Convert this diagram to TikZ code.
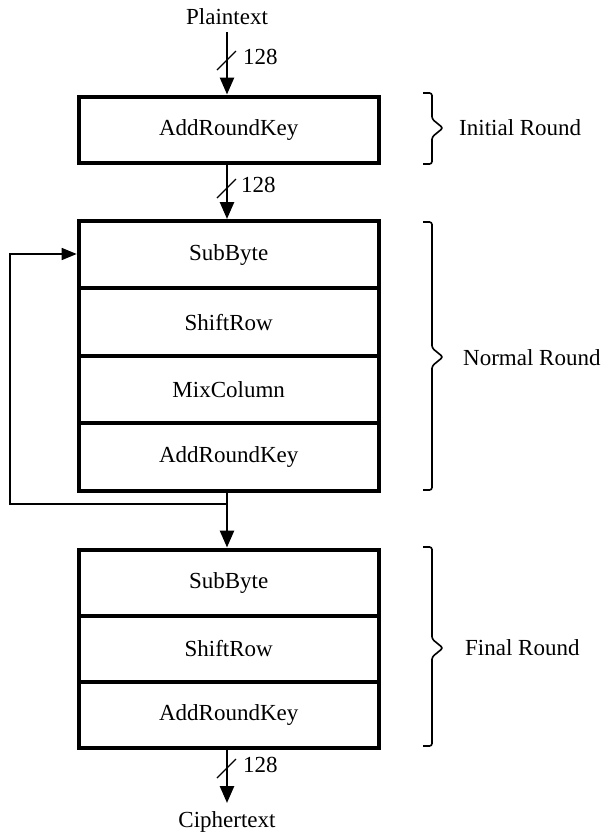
\documentclass[tikz,border=0pt]{standalone}
\usepackage{fontspec}
\setmainfont{Liberation Serif}
\usetikzlibrary{arrows.meta,calc}
\begin{document}
\begin{tikzpicture}[x=1pt,y=-1pt,
  txt/.style={font=\fontsize{23}{27}\selectfont,inner sep=0pt},
  blk/.style={draw,line width=4pt,minimum width=300pt,inner sep=0pt,txt},
  nblk/.style={blk,minimum height=67.4pt},
  fblk/.style={blk,minimum height=66.2pt},
  flow/.style={line width=2.6pt,-{Triangle[width=14pt,length=17pt]}},
  back/.style={line width=1.5pt,-{Triangle[width=12pt,length=15pt]}},
  slashmark/.style={line width=1.3pt},
  brc/.style={line width=1.6pt,rounded corners=2.5pt},
]
\useasboundingbox (0,0) rectangle (605,836);

% texts
\node[txt] (pt) at (227,17) {Plaintext};
\node[txt] (ct) at (227,822) {Ciphertext};

% initial round
\node[blk,minimum height=66pt] (ark0) at (228.7,129.5) {AddRoundKey};

% normal round
\node[nblk] (sb1) at (228.7,254.7) {SubByte};
\node[nblk] (sr1) at (228.7,322.1) {ShiftRow};
\node[nblk] (mc1) at (228.7,389.5) {MixColumn};
\node[nblk] (ark1) at (228.7,456.9) {AddRoundKey};

% final round
\node[fblk] (sb2) at (228.7,582.6) {SubByte};
\node[fblk] (sr2) at (228.7,648.8) {ShiftRow};
\node[fblk] (ark2) at (228.7,715.0) {AddRoundKey};

% arrows
\coordinate (a0s) at (227,32);
\coordinate (axis) at (227,0);
\draw[flow] (a0s) -- (axis |- ark0.north);
\draw[flow] (axis |- ark0.south) -- (axis |- sb1.north);
\draw[flow] (axis |- ark1.south) -- (axis |- sb2.north);
\coordinate (a3e) at (227,803);
\draw[flow] (axis |- ark2.south) -- (a3e);

% bus-width slashes and labels
\coordinate (s0) at (227,60);
\draw[slashmark] ($(s0)+(-10,10)$) -- ($(s0)+(9,-9)$);
\node[txt,anchor=west] (w0) at (243,57) {128};
\coordinate (s1) at (227,188);
\draw[slashmark] ($(s1)+(-10,10)$) -- ($(s1)+(9,-9)$);
\node[txt,anchor=west] (w1) at (241,185) {128};
\coordinate (s3) at (227,768);
\draw[slashmark] ($(s3)+(-10,10)$) -- ($(s3)+(9,-9)$);
\node[txt,anchor=west] (w3) at (243,765) {128};

% feedback loop
\coordinate (fb0) at (227,504);
\coordinate (fb1) at (10,504);
\coordinate (fb2) at (10,254);
\draw[back] (fb0) -- (fb1) -- (fb2) -- (sb1.west |- fb2);

% braces
\draw[brc] (423,93) -- (432,93) -- (432,119) -- (443,128) -- (432,137) -- (432,164) -- (423,164);
\node[txt,anchor=west] (l0) at (459,128) {Initial Round};
\draw[brc] (423,222) -- (432,222) -- (432,348) -- (443,357) -- (432,366) -- (432,490) -- (423,490);
\node[txt,anchor=west] (l1) at (463,358) {Normal Round};
\draw[brc] (423,547) -- (432,547) -- (432,639) -- (443,648) -- (432,657) -- (432,746) -- (423,746);
\node[txt,anchor=west] (l2) at (465,648) {Final Round};
\end{tikzpicture}
\end{document}
